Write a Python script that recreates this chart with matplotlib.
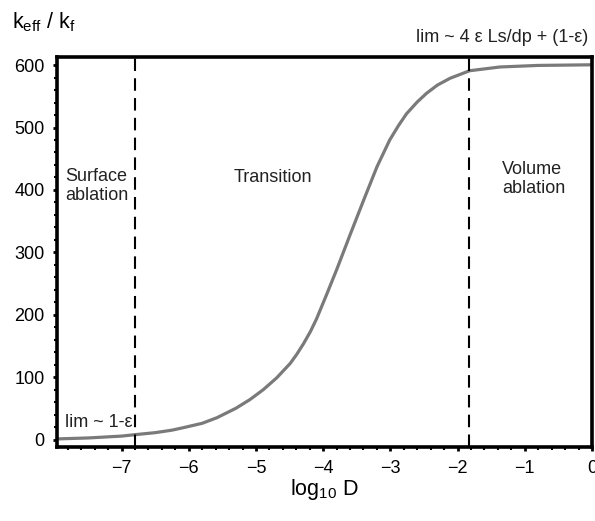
import matplotlib
matplotlib.use("Agg")
import matplotlib.pyplot as plt
from matplotlib.ticker import MultipleLocator

plt.rcParams['font.family'] = ['Liberation Sans', 'DejaVu Sans']
plt.rcParams['mathtext.fontset'] = 'custom'
plt.rcParams['mathtext.rm'] = 'Liberation Sans'

# curve
log_d = [-7.96, -7.5, -7.0, -6.78, -6.5, -6.25, -6.08, -5.8, -5.58, -5.3,
         -5.09, -4.89, -4.69, -4.49, -4.39, -4.29, -4.19, -4.10, -3.95, -3.80,
         -3.6, -3.4, -3.2, -3.01, -2.88, -2.76, -2.6, -2.46, -2.3, -2.11,
         -1.82, -1.37, -0.8, 0.0]
k_ratio = [1, 2.5, 5.5, 8, 11, 15, 19, 26, 35, 50,
           64, 80, 99, 122, 137, 154, 173, 193, 232, 272,
           328, 383, 437, 480, 503, 522, 541, 555, 568, 579,
           591, 597, 599.5, 600.5]

# regime boundaries
grenzen = [-6.8, -1.83]

xticks = [-7, -6, -5, -4, -3, -2, -1, 0]
xticklabels = ["\u22127", "\u22126", "\u22125", "\u22124", "\u22123", "\u22122", "\u22121", "0"]
yticks = [0, 100, 200, 300, 400, 500, 600]

fig = plt.figure(figsize=(5.95, 5.21), dpi=100)
ax = fig.add_axes([0.0958, 0.142, 0.8992, 0.7486])

ax.plot(log_d, k_ratio, color="#7a7a7a", linewidth=2.3, solid_capstyle="round",
        solid_joinstyle="round")
for g in grenzen:
    ax.axvline(g, color="black", linewidth=1.5, dashes=(6, 3.5))

ax.set_xlim(-7.96, 0)
ax.set_ylim(-12, 613)
ax.set_xticks(xticks)
ax.set_xticklabels(xticklabels)
ax.set_yticks(yticks)
ax.xaxis.set_minor_locator(MultipleLocator(0.2))
ax.yaxis.set_minor_locator(MultipleLocator(20))
ax.tick_params(which="major", direction="out", length=3, width=2, labelsize=13, pad=6)
ax.tick_params(which="minor", direction="out", length=2, width=1.5)
for s in ax.spines.values():
    s.set_linewidth(2.6)

fs = 13
ax.text(-7.84, 406, "Surface\nablation", fontsize=fs, va="center", ha="left",
        linespacing=1.15, color="#222222")
ax.text(-4.75, 420, "Transition", fontsize=fs, va="center", ha="center", color="#222222")
ax.text(-1.34, 417, "Volume\nablation", fontsize=fs, va="center", ha="left",
        linespacing=1.15, color="#222222")
ax.text(-7.84, 27, "lim ~ 1-\u03b5", fontsize=fs, va="center", ha="left", color="#222222")
ax.text(-0.06, 644, "lim ~ 4 \u03b5 Ls/dp + (1-\u03b5)", fontsize=fs, va="center",
        ha="right", color="#222222")

fig.text(0.02, 0.958, r"k$_{\rm eff}$ / k$_{\rm f}$", fontsize=15.5, va="center", ha="left")
fig.text(0.545, 0.06, r"log$_{10}$ D", fontsize=15.5, va="center", ha="center")

plt.savefig("out.png", dpi=100)
